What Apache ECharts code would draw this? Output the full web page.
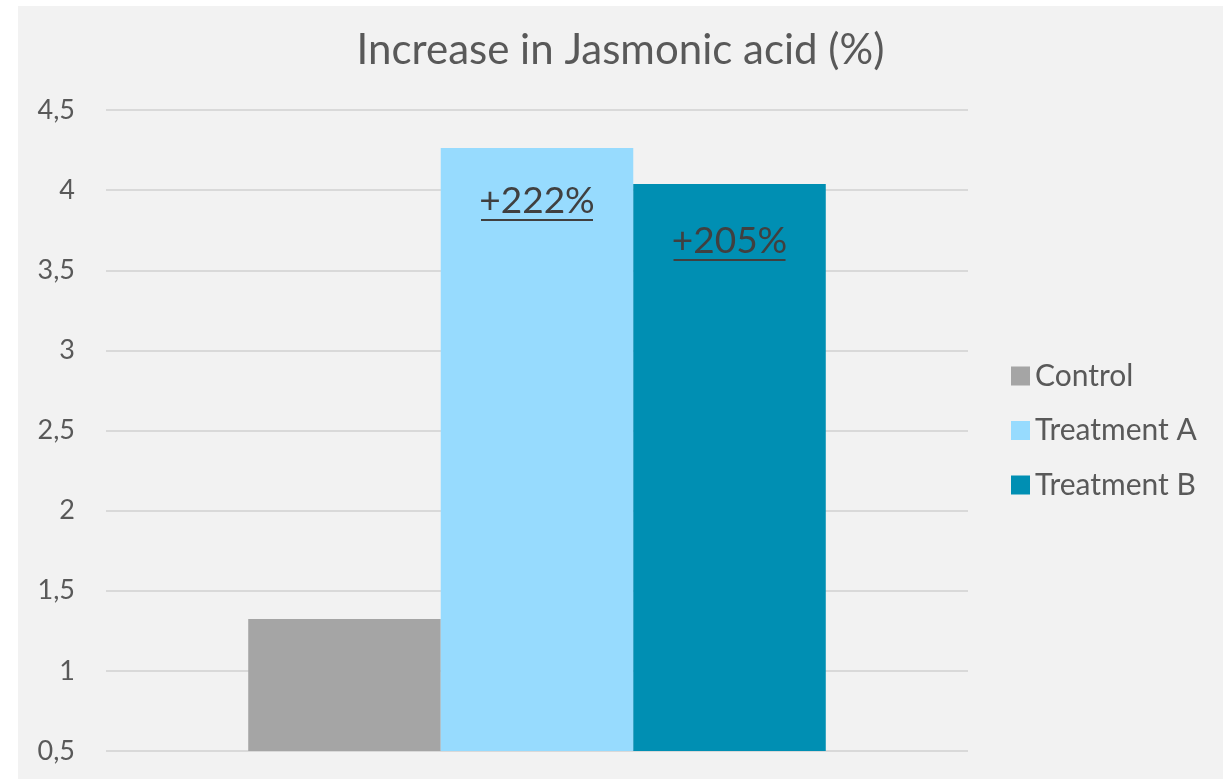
<!DOCTYPE html>
<html>
<head>
<meta charset="utf-8">
<script src="https://cdn.jsdelivr.net/npm/echarts@6/dist/echarts.min.js"></script>
<style>
  html, body { margin: 0; padding: 0; background: #ffffff; }
  #chart { position: absolute; left: 18px; top: 6px; width: 1205px; height: 773px; }
</style>
</head>
<body>
<div id="chart"></div>
<script>
const categories = [''];
const seriesNames = ['Control', 'Treatment A', 'Treatment B'];
const controlValues = [1.324];
const treatmentAValues = [4.263];
const treatmentBValues = [4.038];
const barLabels = ['', '+222%', '+205%'];
const yTickValues = [0.5, 1, 1.5, 2, 2.5, 3, 3.5, 4, 4.5];
const yTickLabels = ['0,5', '1', '1,5', '2', '2,5', '3', '3,5', '4', '4,5'];

const colors = ['#a5a5a5', '#97dbfe', '#008fb3'];
const FONT = 'Lato';

function labelFor(i, dist) {
  if (!barLabels[i]) return { show: false };
  return {
    show: true,
    position: 'insideTop',
    distance: dist,
    formatter: '{t|' + barLabels[i] + '}\n{u|}',
    rich: {
      t: { fontFamily: FONT, fontSize: 37, color: '#404040', lineHeight: 34, align: 'center' },
      u: { width: 112, height: 2, lineHeight: 4, backgroundColor: '#404040', align: 'center' }
    }
  };
}

const valueSets = [controlValues, treatmentAValues, treatmentBValues];
const labelDistances = [0, 36, 40];

const chart = echarts.init(document.getElementById('chart'), null, { renderer: 'canvas' });
chart.setOption({
  backgroundColor: '#f2f2f2',
  animation: false,
  title: {
    text: 'Increase in Jasmonic acid (%)',
    left: 'center',
    top: 18,
    textStyle: { fontFamily: FONT, fontSize: 42, fontWeight: 'normal', color: '#595959' }
  },
  legend: {
    orient: 'vertical',
    left: 993,
    top: 355,
    padding: 0,
    itemWidth: 19,
    itemHeight: 19,
    itemGap: 24.5,
    icon: 'rect',
    data: seriesNames,
    textStyle: { fontFamily: FONT, fontSize: 30, color: '#595959' }
  },
  grid: { left: 88, top: 104, width: 862, height: 641, containLabel: false },
  xAxis: {
    type: 'category',
    data: categories,
    axisLine: { show: false },
    axisTick: { show: false },
    axisLabel: { show: false }
  },
  yAxis: {
    type: 'value',
    min: yTickValues[0],
    max: yTickValues[yTickValues.length - 1],
    interval: 0.5,
    axisLine: { show: false },
    axisTick: { show: false },
    axisLabel: {
      margin: 31,
      fontFamily: FONT,
      fontSize: 27,
      color: '#595959',
      formatter: function (v) {
        const idx = yTickValues.findIndex(t => Math.abs(t - v) < 1e-9);
        return idx >= 0 ? yTickLabels[idx] : '';
      }
    },
    splitLine: { lineStyle: { color: '#d9d9d9', width: 2 } }
  },
  series: seriesNames.map((name, i) => ({
    name: name,
    type: 'bar',
    data: valueSets[i],
    barGap: '0%',
    barCategoryGap: '33%',
    itemStyle: { color: colors[i] },
    label: labelFor(i, labelDistances[i])
  }))
});
</script>
</body>
</html>
